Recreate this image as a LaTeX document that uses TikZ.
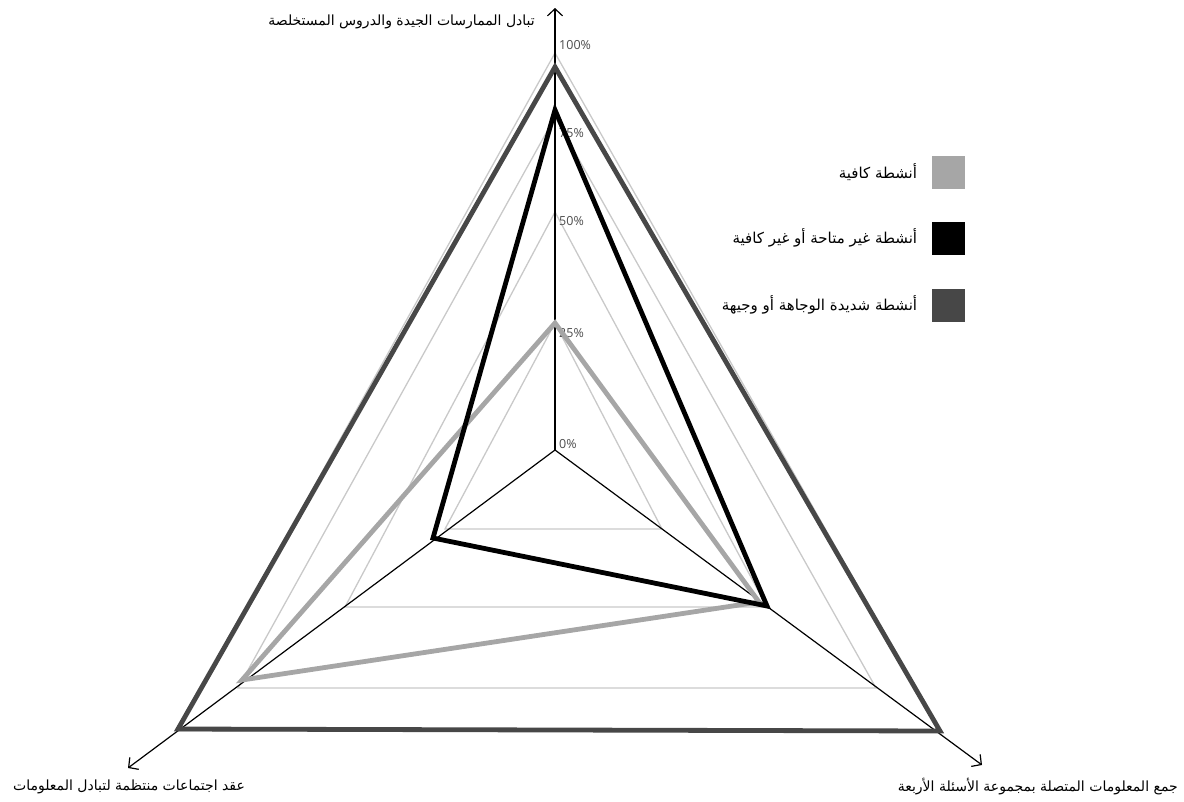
\documentclass[tikz,border=0pt]{standalone}
\usepackage{fontspec}
\setsansfont{Open Sans}
\newfontfamily\arabicfont[Script=Arabic]{DejaVu Sans}
\TeXXeTstate=1
\usepackage{tikz}
\usetikzlibrary{arrows.meta,positioning}
\usepackage{xcolor}
\definecolor{gridgray}{HTML}{C9C9C9}
\definecolor{adequate}{HTML}{A6A6A6}
\definecolor{missing}{HTML}{000000}
\definecolor{relevant}{HTML}{474747}
\definecolor{pcttext}{HTML}{4D4D4D}

\begin{document}
\begin{tikzpicture}[x=1pt,y=-1pt,
  axis/.style={line width=1.2pt,-{Straight Barb[length=7pt,width=15pt]}},
  gridline/.style={gridgray,line width=1.3pt},
  series/.style={line width=4.8pt,line join=miter},
  pct/.style={pcttext,font=\sffamily\fontsize{12.5}{14}\selectfont,anchor=west,inner sep=0pt},
  axlabel/.style={font=\arabicfont\fontsize{14}{16}\selectfont,inner sep=0pt},
  keytext/.style={font=\arabicfont\fontsize{15}{17}\selectfont,inner sep=0pt},
  keybox/.style={minimum size=33pt,inner sep=0pt,draw=none}]
\useasboundingbox (0,0) rectangle (1184,801);
\coordinate (o) at (555,450);
\coordinate (tipT) at (555,8);
\coordinate (tipL) at (128,768);
\coordinate (tipR) at (982,765);
% grid triangles, 25 to 100 percent
\foreach \ty/\lx/\rx/\by in {323/445/662/529,212/345/767/607,117/238/876/688,53/178/940/731}
  \draw[gridline] (555,\ty) -- (\rx,\by) -- (\lx,\by) -- cycle;
\draw[axis] (o) -- (tipT);
\draw[axis] (o) -- (tipL);
\draw[axis] (o) -- (tipR);
\foreach \p/\y in {100/45,75/133,50/221,25/333,0/444}
  \node[pct] (pct\p) at (559,\y) {\p\%};
% series
\coordinate (aT) at (555,323);
\coordinate (aR) at (759,602);
\coordinate (aL) at (242,680);
\coordinate (mT) at (555,110);
\coordinate (mR) at (767,606);
\coordinate (mL) at (433,538);
\coordinate (rT) at (555,67);
\coordinate (rR) at (940,731);
\coordinate (rL) at (178,729);
\draw[series,adequate] (aT) -- (aR) -- (aL) -- cycle;
\draw[series,relevant] (rT) -- (rR) -- (rL) -- cycle;
\draw[series,missing] (mT) -- (mR) -- (mL) -- cycle;
% axis labels
\node[axlabel,anchor=east] (labT) at (535,22) {\beginR تبادل الممارسات الجيدة والدروس المستخلصة\endR};
\node[axlabel] (labL) at (129,787) {\beginR عقد اجتماعات منتظمة لتبادل المعلومات\endR};
\node[axlabel,anchor=east] (labR) at (1178,787) {\beginR جمع المعلومات المتصلة بمجموعة الأسئلة الأربعة\endR};
% legend
\node[keybox,fill=adequate] (key1) at (948,172) {};
\node[keybox,fill=missing] (key2) at (948,238) {};
\node[keybox,fill=relevant] (key3) at (948,305) {};
\node[keytext,left=14pt of key1] (txt1) {\beginR أنشطة كافية\endR};
\node[keytext,left=14pt of key2] (txt2) {\beginR أنشطة غير متاحة أو غير كافية\endR};
\node[keytext,left=14pt of key3] (txt3) {\beginR أنشطة شديدة الوجاهة أو وجيهة\endR};
\end{tikzpicture}
\end{document}
